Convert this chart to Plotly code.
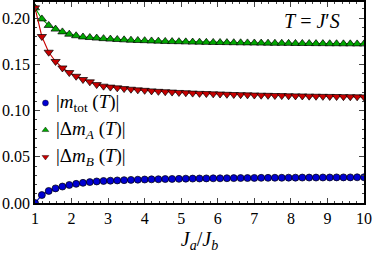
import plotly.graph_objects as go

x_ratio = [1.0, 1.1875, 1.375, 1.5625, 1.75, 1.9375, 2.125, 2.3125, 2.5, 2.6875,
           2.875, 3.0625, 3.25, 3.4375, 3.625, 3.8125, 4.0, 4.1875, 4.375, 4.5625,
           4.75, 4.9375, 5.125, 5.3125, 5.5, 5.6875, 5.875, 6.0625, 6.25, 6.4375,
           6.625, 6.8125, 7.0, 7.1875, 7.375, 7.5625, 7.75, 7.9375, 8.125, 8.3125,
           8.5, 8.6875, 8.875, 9.0625, 9.25, 9.4375, 9.625, 9.8125, 10.0]

m_tot = [0.0, 0.0086, 0.013, 0.0158, 0.0178, 0.0195, 0.0207, 0.0218, 0.0226, 0.0233,
         0.0238, 0.0241, 0.0244, 0.0247, 0.0250, 0.0252, 0.0254, 0.0256, 0.0257, 0.0259,
         0.0260, 0.0261, 0.0263, 0.0264, 0.0265, 0.0266, 0.0267, 0.0267, 0.0268, 0.0269,
         0.0270, 0.0270, 0.0271, 0.0272, 0.0272, 0.0273, 0.0273, 0.0274, 0.0274, 0.0275,
         0.0275, 0.0275, 0.0276, 0.0276, 0.0277, 0.0277, 0.0277, 0.0278, 0.0278]

dm_A = [0.211, 0.199, 0.192, 0.188, 0.185, 0.1825, 0.1808, 0.1795, 0.1789, 0.1783,
        0.1777, 0.1772, 0.1768, 0.1764, 0.1760, 0.1757, 0.1755, 0.1752, 0.1750, 0.1747,
        0.1745, 0.1744, 0.1742, 0.1740, 0.1739, 0.1737, 0.1736, 0.1735, 0.1734, 0.1733,
        0.1732, 0.1731, 0.1730, 0.1729, 0.1728, 0.1727, 0.1727, 0.1726, 0.1725, 0.1725,
        0.1724, 0.1723, 0.1723, 0.1722, 0.1722, 0.1721, 0.1721, 0.1720, 0.1720]

dm_B = [0.211, 0.180, 0.163, 0.153, 0.146, 0.141, 0.137, 0.1335, 0.131, 0.128,
        0.1263, 0.1253, 0.1245, 0.1237, 0.1230, 0.1223, 0.1218, 0.1212, 0.1207, 0.1203,
        0.1199, 0.1195, 0.1192, 0.1188, 0.1185, 0.1183, 0.1180, 0.1178, 0.1175, 0.1173,
        0.1171, 0.1169, 0.1167, 0.1165, 0.1164, 0.1162, 0.1161, 0.1159, 0.1158, 0.1157,
        0.1155, 0.1154, 0.1153, 0.1152, 0.1151, 0.1150, 0.1149, 0.1148, 0.1147]

series_labels = ["|<i>m</i><sub>tot</sub> (<i>T</i>)|",
                 "|Δ<i>m</i><sub><i>A</i></sub> (<i>T</i>)|",
                 "|Δ<i>m</i><sub><i>B</i></sub> (<i>T</i>)|"]

x_ticks = [1, 2, 3, 4, 5, 6, 7, 8, 9, 10]
y_ticks = [0.0, 0.05, 0.10, 0.15, 0.20]
y_ticklabels = ["0.00", "0.05", "0.10", "0.15", "0.20"]

FONT = "Liberation Serif"
BLUE = "#0000d2"
GREEN = "#00a800"
RED = "#c80000"

series = [
    (dm_A, GREEN, "triangle-up", 8, "legend2"),
    (dm_B, RED, "triangle-down", 8, "legend3"),
    (m_tot, BLUE, "circle", 7, "legend"),
]

fig = go.Figure()
for vals, col, sym, sz, _ in series:
    fig.add_trace(go.Scatter(
        x=x_ratio, y=vals, mode="lines+markers", showlegend=False,
        line=dict(color=col, width=1.1),
        marker=dict(symbol=sym, size=sz, color=col, line=dict(color="black", width=0.7))))

# legend-only marker entries (text placed by annotations for exact spacing)
for vals, col, sym, sz, leg in series:
    fig.add_trace(go.Scatter(
        x=[None], y=[None], mode="markers", name="", legend=leg, showlegend=True,
        marker=dict(symbol=sym, size=6, color=col, line=dict(color="black", width=0.4))))

leg_common = dict(font=dict(family=FONT, size=10, color="black"), bgcolor="rgba(0,0,0,0)",
                  xanchor="left", yanchor="middle", itemsizing="trace", itemwidth=30)

label_y = [0.4975, 0.363, 0.229]
annotations = [dict(text="<i>T</i> = <i>J</i>′<i>S</i>", x=0.933, y=0.905,
                    xref="paper", yref="paper", xanchor="right", yanchor="middle",
                    showarrow=False, font=dict(family=FONT, size=20, color="black"))]
for lab, ly in zip(series_labels, label_y):
    annotations.append(dict(text=lab, x=0.058, y=ly, xref="paper", yref="paper",
                            xanchor="left", yanchor="middle", showarrow=False,
                            font=dict(family=FONT, size=19, color="black")))

fig.update_layout(
    width=374, height=262,
    margin=dict(l=35, r=10, t=2, b=59, autoexpand=False),
    paper_bgcolor="white", plot_bgcolor="white",
    font=dict(family=FONT, size=16, color="black"),
    showlegend=True,
    legend=dict(x=-0.029, y=label_y[0], **leg_common),
    legend2=dict(x=-0.029, y=label_y[1], **leg_common),
    legend3=dict(x=-0.029, y=label_y[2], **leg_common),
    xaxis=dict(range=[1, 10], tickvals=x_ticks, ticks="inside", ticklen=5, tickwidth=1,
               showline=True, linecolor="black", linewidth=1.5, mirror="allticks",
               showgrid=False, zeroline=False, ticklabeloverflow="allow", automargin=False,
               tickfont=dict(family=FONT, size=16),
               minor=dict(ticks="inside", dtick=0.2, ticklen=2.5, tickwidth=1, showgrid=False),
               title=dict(text="<i>J</i><sub><i>a</i></sub>/<i>J</i><sub><i>b</i></sub>",
                          font=dict(family=FONT, size=20), standoff=6)),
    yaxis=dict(range=[0, 0.2173], tickvals=y_ticks, ticktext=y_ticklabels,
               ticks="inside", ticklen=5, tickwidth=1,
               showline=True, linecolor="black", linewidth=1.5, mirror="allticks",
               showgrid=False, zeroline=False, ticklabeloverflow="allow", automargin=False,
               tickfont=dict(family=FONT, size=16),
               minor=dict(ticks="inside", dtick=0.01, ticklen=2.5, tickwidth=1, showgrid=False)),
    annotations=annotations,
)

fig.write_html("out.html", config={"displayModeBar": False},
               post_script="document.body.style.margin='0';")
